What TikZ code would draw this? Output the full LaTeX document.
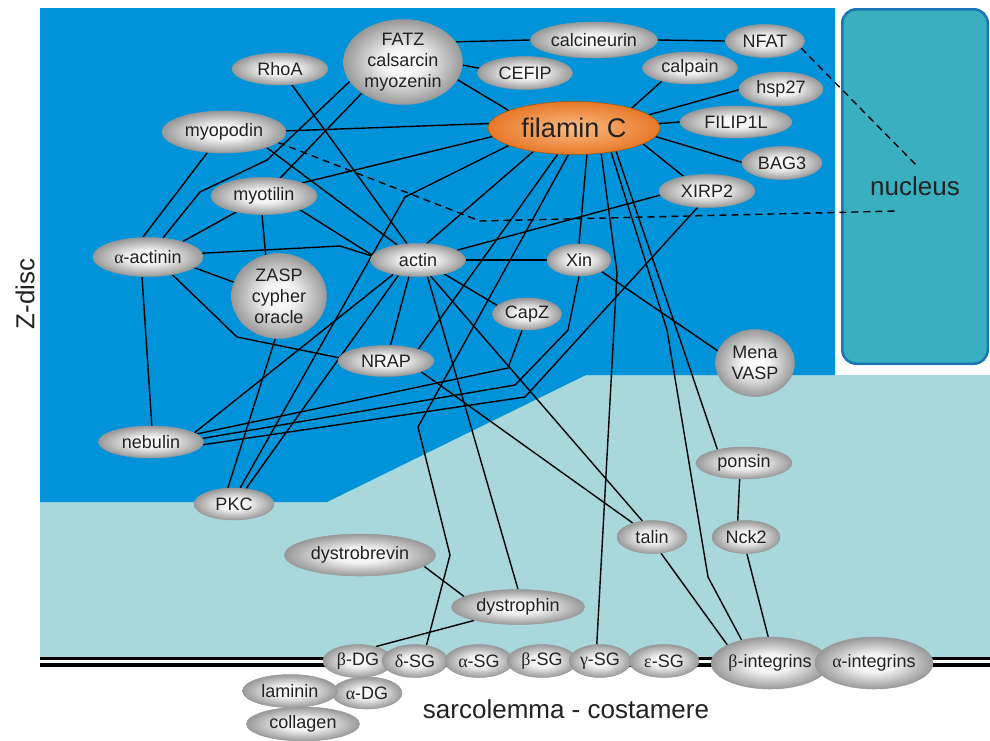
\documentclass[tikz,border=0pt]{standalone}
\usepackage{fontspec}
\setmainfont{Liberation Sans}
\newfontfamily\grk{Liberation Serif}
\usetikzlibrary{shapes.geometric}
\pgfdeclarelayer{bglayer}
\pgfdeclarelayer{edgelayer}
\pgfsetlayers{bglayer,edgelayer,main}
\definecolor{zblue}{HTML}{0093D9}
\definecolor{lteal}{HTML}{A9D8DC}
\definecolor{nucfill}{HTML}{3AAFBF}
\definecolor{nucdraw}{HTML}{1B75B5}
\definecolor{txt}{HTML}{222222}
\pgfdeclareradialshading{greyball}{\pgfpoint{0bp}{0bp}}{rgb(0bp)=(1,1,1); rgb(9bp)=(0.95,0.95,0.95); rgb(25bp)=(0.60,0.60,0.60); rgb(50bp)=(0.60,0.60,0.60)}
\pgfdeclareradialshading{orangeball}{\pgfpoint{0bp}{0bp}}{rgb(0bp)=(0.98,0.74,0.52); rgb(25bp)=(0.91,0.47,0.16); rgb(50bp)=(0.91,0.47,0.16)}
\tikzset{
  prot/.style={ellipse, draw=black!40, line width=0.5pt, shading=greyball, inner sep=0pt,
    font=\fontsize{18}{21}\selectfont, align=center, text=txt},
  link/.style={line width=1.4pt, black},
  dlink/.style={line width=1.4pt, black, dash pattern=on 7pt off 5pt},
  bigtext/.style={font=\fontsize{26}{26}\selectfont, text=txt, inner sep=0pt}
}
\begin{document}
\begin{tikzpicture}[x=1pt,y=-1pt]
\useasboundingbox (0,0) rectangle (990,740);
\begin{pgfonlayer}{bglayer}
  \fill[lteal] (40,375) rectangle (990,657);
  \fill[zblue] (40,8) -- (835,8) -- (835,375) -- (586,375) -- (327,502) -- (40,502) -- cycle;
  \fill[black] (40,656.5) rectangle (990,660);
  \fill[black] (40,663) rectangle (990,666.5);
  \node[draw=nucdraw, fill=nucfill, line width=2.5pt, rounded corners=14pt,
    minimum width=145.5pt, minimum height=354.5pt, bigtext] (nucleus) at (915,186.5) {nucleus};
\end{pgfonlayer}

\coordinate (nucA) at (897,211);
\coordinate (nucB) at (918,167);
\node[bigtext, rotate=90] (zdisc) at (25,294) {Z-disc};
\node[bigtext, anchor=base] (sarc) at (566,718) {sarcolemma - costamere};

% proteins
\node[prot, minimum width=119pt, minimum height=85pt] (fatz) at (403,62) {FATZ\\calsarcin\\myozenin};
\node[prot, minimum width=96pt, minimum height=32pt] (rhoa) at (280,69) {RhoA};
\node[prot, minimum width=124pt, minimum height=42pt] (myopodin) at (224,132) {myopodin};
\node[prot, minimum width=106pt, minimum height=37pt] (myotilin) at (264,196) {myotilin};
\node[prot, minimum width=127pt, minimum height=36pt] (calcineurin) at (594,40) {calcineurin};
\node[prot, minimum width=79pt, minimum height=33pt] (nfat) at (765,41) {NFAT};
\node[prot, minimum width=95pt, minimum height=33pt] (cefip) at (525,73) {CEFIP};
\node[prot, minimum width=95pt, minimum height=32pt] (calpain) at (690,68) {calpain};
\node[prot, minimum width=84pt, minimum height=34pt] (hsp27) at (781,89) {hsp27};
\node[ellipse, draw=black!20!orange!80!black, line width=0.5pt, shading=orangeball, inner sep=0pt,
  minimum width=172pt, minimum height=53pt, font=\fontsize{27}{27}\selectfont, text=txt] (filamin) at (574,128) {filamin C};
\node[prot, minimum width=112pt, minimum height=32pt] (filip) at (736,122) {FILIP1L};
\node[prot, minimum width=80pt, minimum height=33pt] (bag3) at (782,163) {BAG3};
\node[prot, minimum width=96pt, minimum height=33pt] (xirp2) at (707,191) {XIRP2};
\node[prot, minimum width=110pt, minimum height=39pt] (actinin) at (148,257) {{\grk α}-actinin};
\node[prot, minimum width=95pt, minimum height=85pt] (zasp) at (279,296) {ZASP\\cypher\\oracle};
\node[prot, minimum width=95pt, minimum height=33pt] (actin) at (418,260) {actin};
\node[prot, minimum width=96pt, minimum height=31pt] (nrap) at (386,361) {NRAP};
\node[prot, minimum width=105pt, minimum height=32pt] (nebulin) at (151,442) {nebulin};
\node[prot, minimum width=80pt, minimum height=32pt] (pkc) at (234,504) {PKC};
\node[prot, minimum width=64pt, minimum height=32pt] (xin) at (579,260) {Xin};
\node[prot, minimum width=69pt, minimum height=32pt] (capz) at (527,314) {CapZ};
\node[prot, minimum width=79pt, minimum height=67pt] (mena) at (755,363) {Mena\\VASP};
\node[prot, minimum width=96pt, minimum height=32pt] (ponsin) at (744,463) {ponsin};
\node[prot, minimum width=151pt, minimum height=42pt] (dystrobrevin) at (360,555) {dystrobrevin};
\node[prot, minimum width=133pt, minimum height=35pt] (dystrophin) at (518,607) {dystrophin};
\node[prot, minimum width=70pt, minimum height=33pt] (talin) at (652,537) {talin};
\node[prot, minimum width=68pt, minimum height=33pt] (nck2) at (746,537) {Nck2};
\node[prot, minimum width=70pt, minimum height=32pt] (adg) at (367,693) {{\grk α}-DG};
\node[prot, minimum width=95pt, minimum height=33pt] (laminin) at (290,691) {laminin};
\node[prot, minimum width=113pt, minimum height=34pt] (collagen) at (303,724) {collagen};
\node[prot, minimum width=70pt, minimum height=33pt] (bdg) at (358,661) {{\grk β}-DG};
\node[prot, minimum width=66pt, minimum height=33pt] (dsg) at (415,661) {{\grk δ}-SG};
\node[prot, minimum width=68pt, minimum height=33pt] (asg) at (479,661) {{\grk α}-SG};
\node[prot, minimum width=70pt, minimum height=33pt] (bsg) at (542,661) {{\grk β}-SG};
\node[prot, minimum width=62pt, minimum height=33pt] (gsg) at (600,661) {{\grk γ}-SG};
\node[prot, minimum width=70pt, minimum height=33pt] (esg) at (664,661) {{\grk ε}-SG};
\node[prot, minimum width=104pt, minimum height=52pt] (bint) at (770,663) {{\grk β}-integrins};
\node[prot, minimum width=112pt, minimum height=52pt] (aint) at (874,663) {{\grk α}-integrins};

\begin{pgfonlayer}{edgelayer}
\draw[link] (fatz.21) -- (calcineurin.180);
\draw[link] (calcineurin.0) -- (nfat.180);
\draw[link] (fatz.-3) -- (cefip.174);
\draw[link] (fatz.-18) -- (filamin.165);
\draw[link] (fatz.200) -- (267,160) -- (200,192) -- (actinin.52);
\draw[link] (fatz.217) -- (myotilin.48);
\draw[link] (rhoa.-53) -- (actin.124);
\draw[link] (myopodin.1) -- (filamin.177);
\draw[link] (myopodin.231) -- (actinin.105);
\draw[link] (myopodin.-20) -- (actin.144);
\draw[dlink] (myopodin.-11) -- (480,221) -- (nucA);
\draw[dlink] (nfat.-11) -- (nucB);
\draw[link] (myotilin.19) -- (filamin.186);
\draw[link] (myotilin.-21) -- (actin.174);
\draw[link] (myotilin.-96) -- (zasp.108);
\draw[link] (myotilin.210) -- (actinin.24);
\draw[link] (actinin.4) -- (340,246) -- (actin.175);
\draw[link] (actinin.-13) -- (zasp.163);
\draw[link] (actinin.-36) -- (237,337) -- (nrap.176);
\draw[link] (actinin.-107) -- (nebulin.87);
\draw[link] (zasp.-95) -- (pkc.111);
\draw[link] (actin.-119) -- (nrap.74);
\draw[link] (actin.210) -- (nebulin.12);
\draw[link] (actin.0) -- (xin.180);
\draw[link] (actin.14) -- (xirp2.185);
\draw[link] (actin.-28) -- (capz.164);
\draw[link] (actin.-52) -- (talin.121);
\draw[link] (actin.-60) -- (dystrophin.90);
\draw[link] (actin.62) -- (filamin.210);
\draw[link] (actin.218) -- (pkc.52);
\draw[link] (filamin.238) -- (nrap.20);
\draw[link] (filamin.-102) -- (418,427) -- (450,555) -- (dsg.54);
\draw[link] (filamin.195) -- (405,197) -- (pkc.69);
\draw[link] (filamin.-64) -- (xin.90);
\draw[link] (filamin.-43) -- (617,273) -- (gsg.101);
\draw[link] (filamin.-33) -- (667,330) -- (708,577) -- (bint.141);
\draw[link] (filamin.-29) -- (ponsin.153);
\draw[link] (filamin.-13) -- (xirp2.148);
\draw[link] (filamin.-6) -- (bag3.179);
\draw[link] (filamin.3) -- (filip.180);
\draw[link] (filamin.10) -- (hsp27.181);
\draw[link] (filamin.19) -- (calpain.205);
\draw[link] (nrap.-17) -- (talin.144);
\draw[link] (nebulin.10) -- (508,368) -- (capz.-107);
\draw[link] (nebulin.4) -- (515,385) -- (568,330) -- (xin.-90);
\draw[link] (nebulin.-3) -- (525,397) -- (xirp2.-120);
\draw[link] (xin.-27) -- (mena.162);
\draw[link] (ponsin.-105) -- (nck2.117);
\draw[link] (nck2.-87) -- (bint.94);
\draw[link] (talin.-61) -- (bint.157);
\draw[link] (dystrobrevin.-10) -- (dystrophin.169);
\draw[link] (dystrophin.197) -- (bdg.39);
\end{pgfonlayer}
\end{tikzpicture}
\end{document}
